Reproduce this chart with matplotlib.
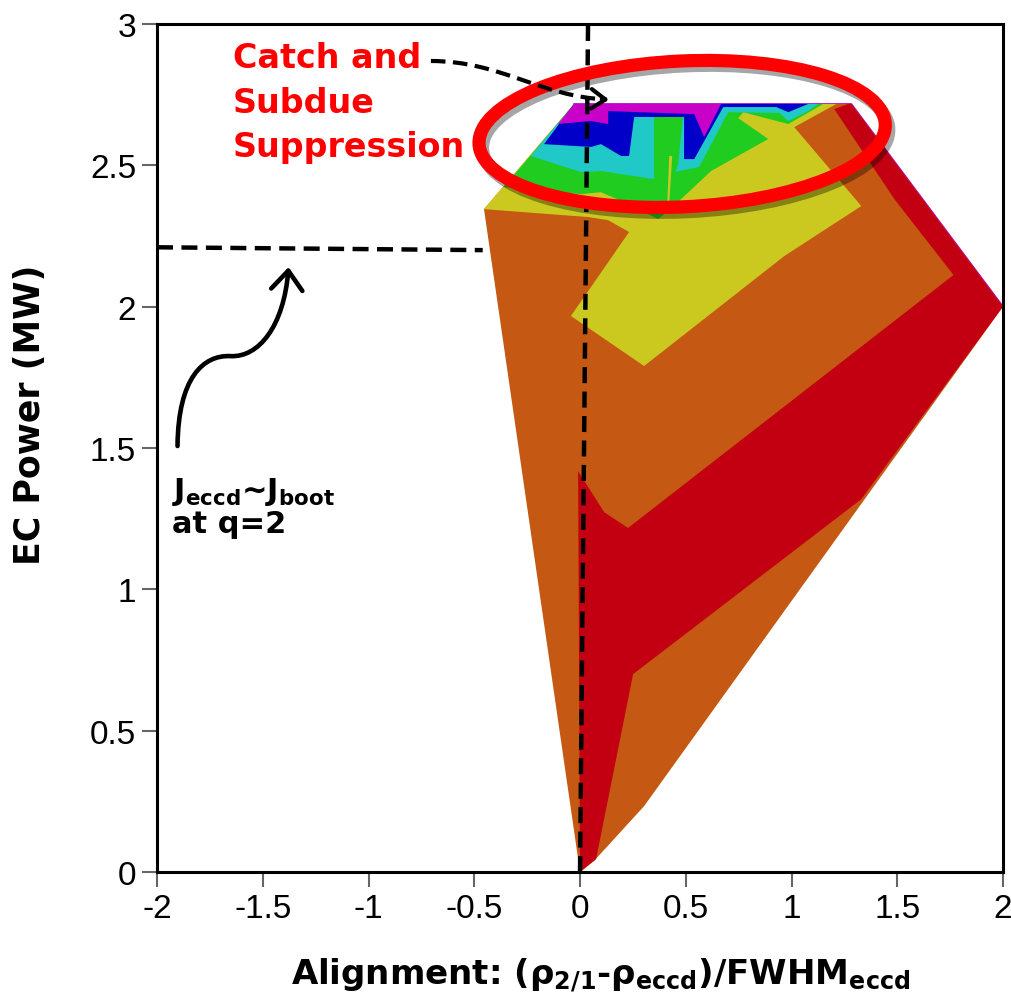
import matplotlib
matplotlib.use("Agg")
import matplotlib.pyplot as plt
import matplotlib.patheffects as pe
from matplotlib.patches import Ellipse, FancyArrowPatch, PathPatch
from matplotlib.path import Path

plt.rcParams["mathtext.fontset"] = "custom"
plt.rcParams["mathtext.bf"] = "DejaVu Sans:bold"
plt.rcParams["mathtext.rm"] = "DejaVu Sans:bold"

# contour bands, drawn from the lowest level upward (x = alignment, y = EC power in MW)
orange_x = [0.000, -0.454, -0.028, 1.283, 2.000, 0.303, 0.066]
orange_y = [0.000, 2.345, 2.717, 2.717, 2.000, 0.233, 0.039]

red_x = [0.000, -0.009, 0.114, 0.227, 1.766, 1.486, 1.202, 1.269, 1.283, 2.000, 1.330, 0.251, 0.076]
red_y = [0.000, 1.418, 1.273, 1.217, 2.112, 2.381, 2.699, 2.717, 2.717, 2.000, 1.319, 0.700, 0.046]

yellow_x = [-0.454, -0.028, 1.212, 1.013, 1.330, 0.966, 0.303, -0.043, 0.232, 0.133, 0.038]
yellow_y = [2.345, 2.717, 2.717, 2.635, 2.356, 2.179, 1.790, 1.967, 2.264, 2.306, 2.317]

green_x = [-0.360, -0.028, 1.150, 0.985, 0.857, 0.772, 0.748, 0.890, 0.620, 0.417, 0.369, 0.227, 0.099, 0.005]
green_y = [2.423, 2.717, 2.717, 2.646, 2.671, 2.688, 2.667, 2.593, 2.480, 2.338, 2.310, 2.363, 2.405, 2.398]

cyan_x = [-0.232, -0.028, 1.127, 1.079, 0.985, 0.942, 0.701, 0.563, 0.469, 0.350, 0.099, 0.005]
cyan_y = [2.533, 2.717, 2.717, 2.692, 2.657, 2.685, 2.688, 2.494, 2.480, 2.451, 2.480, 2.476]

green2_x = [0.350, 0.488, 0.464, 0.407, 0.350]
green2_y = [2.681, 2.681, 2.504, 2.381, 2.381]

sliver_x = [0.422, 0.436, 0.421, 0.412]
sliver_y = [2.533, 2.533, 2.356, 2.356]

blue_x = [-0.170, -0.028, 1.079, 0.985, 0.928, 0.677, 0.540, 0.492, 0.492, 0.256, 0.232, 0.194, 0.099, 0.052]
blue_y = [2.575, 2.717, 2.717, 2.688, 2.706, 2.706, 2.522, 2.522, 2.671, 2.671, 2.533, 2.533, 2.575, 2.565]

purple_x = [-0.104, -0.028, 0.667, 0.587, 0.540, 0.133, 0.133, 0.052]
purple_y = [2.646, 2.717, 2.717, 2.600, 2.681, 2.692, 2.646, 2.657]

bands = [
    (orange_x, orange_y, "#C55812"),
    (red_x, red_y, "#C30011"),
    (yellow_x, yellow_y, "#CBC920"),
    (green_x, green_y, "#20CC20"),
    (cyan_x, cyan_y, "#20C8C8"),
    (green2_x, green2_y, "#20CC20"),
    (sliver_x, sliver_y, "#CBC920"),
    (blue_x, blue_y, "#0000C8"),
    (purple_x, purple_y, "#C800C8"),
]

x_ticks = [-2, -1.5, -1, -0.5, 0, 0.5, 1, 1.5, 2]
x_tick_labels = ["-2", "-1.5", "-1", "-0.5", "0", "0.5", "1", "1.5", "2"]
y_ticks = [0, 0.5, 1, 1.5, 2, 2.5, 3]
y_tick_labels = ["0", "0.5", "1", "1.5", "2", "2.5", "3"]

# guide lines
vline_x = [0.0, 0.038]
vline_y = [0.0, 3.0]
hline_x = [-2.0, -0.46]
hline_y = [2.21, 2.20]


fig = plt.figure(figsize=(10.11, 10.03), dpi=100)
ax = fig.add_axes([0.1553, 0.1296, 0.8368, 0.8455])

# thin purple fringe along outer top/right edge
ax.plot([-0.028, 1.283, 2.0], [2.717, 2.717, 2.0], color="#B000D0", lw=1.2, zorder=1)
for bx, by, col in bands:
    ax.fill(bx, by, color=col, lw=0, zorder=2)

ax.set_xlim(-2, 2)
ax.set_ylim(0, 3)
ax.set_xticks(x_ticks)
ax.set_xticklabels(x_tick_labels)
ax.set_yticks(y_ticks)
ax.set_yticklabels(y_tick_labels)
ax.tick_params(direction="out", length=11, width=1.5, color="#666666",
               labelsize=24, pad=4)
for lab in ax.get_xticklabels() + ax.get_yticklabels():
    lab.set_family("Liberation Sans")
for s in ax.spines.values():
    s.set_linewidth(2.2)
    s.set_zorder(10)

ax.set_xlabel("Alignment: (ρ$_{\\mathbf{2/1}}$-ρ$_{\\mathbf{eccd}}$)/FWHM$_{\\mathbf{eccd}}$",
              fontsize=24.5, fontweight="bold", va="baseline")
ax.xaxis.set_label_coords(0.524, -0.132)
ax.set_ylabel("EC Power (MW)", fontsize=25, fontweight="bold", va="center", ha="center")
ax.yaxis.set_label_coords(-0.150, 0.54)

# dashed guide lines
ax.plot(vline_x, vline_y, color="k", lw=3.2, dashes=(3.6, 1.9), zorder=5,
        solid_capstyle="butt", clip_on=False)
ax.plot(hline_x, hline_y, color="k", lw=3.2, dashes=(3.6, 1.9), zorder=5)

# red ellipse with shadow
ell = Ellipse((0.483, 2.611), 1.922, 0.516, angle=2, fill=False,
              edgecolor="#FF0000", lw=9.5, zorder=7)
ell.set_path_effects([pe.SimpleLineShadow(offset=(2.5, -3.5), shadow_color="k", alpha=0.35),
                      pe.Normal()])
ax.add_patch(ell)

# dashed curved arrow from the red text
verts = [(-0.705, 2.869), (-0.374, 2.869), (-0.185, 2.742), (0.125, 2.733)]
codes = [Path.MOVETO, Path.CURVE4, Path.CURVE4, Path.CURVE4]
ax.add_patch(PathPatch(Path(verts, codes), fill=False, lw=3, ls=(0, (3.5, 1.8)),
                       color="k", zorder=8))
ax.annotate("", xy=(0.150, 2.732), xytext=(0.09, 2.734),
            arrowprops=dict(arrowstyle="->,head_length=0.5,head_width=0.35",
                            lw=3, color="k", mutation_scale=20), zorder=8)

# curved solid arrow for Jeccd~Jboot
verts2 = [(-1.903, 1.507), (-1.90, 1.75), (-1.78, 1.83), (-1.652, 1.825),
          (-1.52, 1.82), (-1.40, 1.93), (-1.378, 2.14)]
codes2 = [Path.MOVETO, Path.CURVE4, Path.CURVE4, Path.CURVE4,
          Path.CURVE4, Path.CURVE4, Path.CURVE4]
ax.add_patch(FancyArrowPatch(path=Path(verts2, codes2),
                             arrowstyle="->,head_length=0.55,head_width=0.45",
                             mutation_scale=25, lw=3.3, color="k", zorder=8))

ax.text(-1.643, 2.94, "Catch and\nSubdue\nSuppression", color="#FF0000",
        fontsize=24, fontweight="bold", va="top", ha="left", linespacing=1.45, zorder=9)
ax.text(-1.927, 1.405, "J$_{\\mathbf{eccd}}$~J$_{\\mathbf{boot}}$\nat q=2", color="k",
        fontsize=22, fontweight="bold", va="top", ha="left", linespacing=1.1, zorder=9)

fig.savefig("out.png", dpi=100)
